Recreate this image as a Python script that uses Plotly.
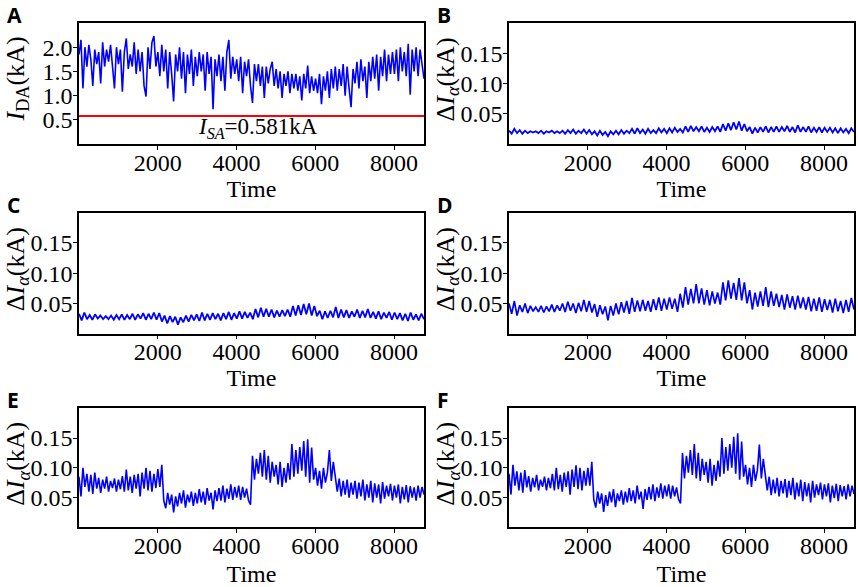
import numpy as np
import plotly.graph_objects as go

# ---------------- data ----------------
x_ticks = [2000, 4000, 6000, 8000]
t_start, t_end = 1, 8760

A_vals = [1.85, 2.15, 1.15, 2.0, 1.6, 2.05, 1.75, 1.2, 1.95, 1.65,
          1.9, 1.25, 2.1, 1.6, 1.95, 1.7, 2.05, 1.5, 1.15, 2.0,
          1.65, 1.95, 1.08, 1.9, 2.18, 1.55, 1.85, 1.6, 2.1, 1.45,
          1.95, 1.5, 1.9, 1.2, 0.98, 2.0, 1.55, 2.1, 2.23, 1.6,
          1.9, 1.4, 2.05, 1.5, 1.95, 1.15, 1.9, 1.45, 0.88, 1.85,
          1.5, 2.0, 1.35, 1.9, 1.05, 1.85, 1.45, 1.95, 1.2, 1.8,
          1.4, 1.9, 1.5, 1.85, 1.1, 1.9, 1.45, 1.8, 0.72, 1.75,
          1.4, 1.85, 1.3, 1.8, 1.1, 1.9, 2.15, 1.35, 1.8, 1.45,
          1.75, 1.3, 1.8, 1.05, 1.7, 1.4, 1.75, 1.2, 0.85, 1.65,
          1.3, 1.65, 1.2, 1.6, 0.95, 1.6, 1.25, 1.55, 1.7, 1.2,
          1.55, 1.15, 1.5, 0.95, 1.45, 1.2, 1.5, 1.05, 1.45, 1.15,
          1.45, 1.1, 1.4, 0.9, 1.45, 1.15, 1.62, 1.05, 1.4, 1.1,
          1.35, 1.05, 1.45, 0.82, 1.4, 1.1, 1.5, 0.95, 1.55, 1.15,
          1.6, 1.1, 1.55, 1.2, 1.65, 1.0, 1.6, 1.15, 0.76, 1.55,
          1.25, 1.7, 1.15, 1.75, 1.3, 1.6, 0.95, 1.7, 1.3, 1.8,
          1.35, 1.85, 1.1, 1.8, 1.4, 1.95, 1.3, 1.85, 1.45, 1.9,
          1.45, 1.95, 1.3, 2.0, 1.5, 1.9, 1.4, 2.07, 1.02, 1.95,
          1.5, 2.0, 1.4, 1.95, 1.6, 1.35]

B_vals = [0.022, 0.017, 0.025, 0.018, 0.023, 0.017, 0.022, 0.018, 0.021, 0.019,
          0.021, 0.018, 0.022, 0.017, 0.021, 0.019, 0.022, 0.018, 0.021, 0.018,
          0.022, 0.017, 0.023, 0.018, 0.024, 0.017, 0.022, 0.018, 0.024, 0.017,
          0.023, 0.016, 0.021, 0.014, 0.022, 0.015, 0.020, 0.013, 0.021, 0.016,
          0.022, 0.016, 0.023, 0.017, 0.022, 0.018, 0.025, 0.017, 0.026, 0.018,
          0.024, 0.017, 0.025, 0.018, 0.023, 0.018, 0.026, 0.019, 0.025, 0.018,
          0.026, 0.019, 0.027, 0.020, 0.025, 0.019, 0.029, 0.020, 0.030, 0.021,
          0.028, 0.021, 0.029, 0.020, 0.027, 0.020, 0.028, 0.021, 0.029, 0.020,
          0.033, 0.022, 0.034, 0.023, 0.036, 0.024, 0.037, 0.022, 0.033, 0.021,
          0.028, 0.017, 0.027, 0.019, 0.028, 0.020, 0.029, 0.019, 0.028, 0.020,
          0.029, 0.020, 0.028, 0.021, 0.030, 0.020, 0.028, 0.019, 0.031, 0.020,
          0.028, 0.020, 0.029, 0.019, 0.027, 0.020, 0.028, 0.019, 0.027, 0.020,
          0.027, 0.019, 0.026, 0.018, 0.026, 0.019, 0.025, 0.018, 0.026, 0.020]

C_vals = [0.033, 0.022, 0.035, 0.024, 0.031, 0.023, 0.032, 0.025, 0.030, 0.024,
          0.029, 0.024, 0.030, 0.023, 0.031, 0.024, 0.032, 0.023, 0.031, 0.024,
          0.033, 0.023, 0.032, 0.025, 0.034, 0.023, 0.033, 0.024, 0.035, 0.023,
          0.034, 0.020, 0.030, 0.017, 0.029, 0.019, 0.028, 0.015, 0.027, 0.019,
          0.030, 0.020, 0.031, 0.022, 0.032, 0.021, 0.035, 0.022, 0.033, 0.023,
          0.034, 0.024, 0.033, 0.022, 0.034, 0.024, 0.036, 0.023, 0.034, 0.025,
          0.037, 0.025, 0.036, 0.026, 0.035, 0.024, 0.041, 0.027, 0.043, 0.028,
          0.041, 0.028, 0.040, 0.027, 0.038, 0.028, 0.039, 0.029, 0.040, 0.028,
          0.046, 0.030, 0.047, 0.031, 0.049, 0.032, 0.050, 0.030, 0.046, 0.029,
          0.038, 0.024, 0.037, 0.026, 0.038, 0.027, 0.044, 0.026, 0.040, 0.027,
          0.039, 0.026, 0.037, 0.028, 0.040, 0.026, 0.038, 0.027, 0.041, 0.026,
          0.036, 0.025, 0.037, 0.024, 0.035, 0.026, 0.036, 0.023, 0.035, 0.024,
          0.034, 0.022, 0.033, 0.021, 0.035, 0.023, 0.032, 0.022, 0.033, 0.024]

D_vals = [0.050, 0.033, 0.054, 0.030, 0.047, 0.036, 0.050, 0.034, 0.046, 0.037,
          0.044, 0.036, 0.046, 0.035, 0.045, 0.037, 0.048, 0.036, 0.047, 0.038,
          0.050, 0.036, 0.053, 0.038, 0.050, 0.034, 0.051, 0.037, 0.056, 0.036,
          0.054, 0.035, 0.049, 0.028, 0.047, 0.032, 0.045, 0.022, 0.046, 0.030,
          0.050, 0.032, 0.052, 0.035, 0.054, 0.033, 0.059, 0.036, 0.055, 0.037,
          0.056, 0.038, 0.054, 0.036, 0.057, 0.039, 0.060, 0.038, 0.058, 0.040,
          0.060, 0.041, 0.058, 0.036, 0.066, 0.043, 0.077, 0.048, 0.074, 0.050,
          0.082, 0.050, 0.075, 0.048, 0.072, 0.047, 0.070, 0.050, 0.068, 0.048,
          0.085, 0.055, 0.088, 0.058, 0.084, 0.056, 0.092, 0.055, 0.085, 0.050,
          0.072, 0.040, 0.068, 0.045, 0.070, 0.046, 0.077, 0.044, 0.070, 0.046,
          0.066, 0.044, 0.064, 0.040, 0.065, 0.043, 0.062, 0.040, 0.063, 0.042,
          0.060, 0.040, 0.061, 0.037, 0.058, 0.038, 0.060, 0.036, 0.057, 0.039,
          0.056, 0.035, 0.058, 0.037, 0.054, 0.034, 0.056, 0.036, 0.059, 0.040]

E_vals = [0.085, 0.052, 0.100, 0.068, 0.090, 0.060, 0.088, 0.056, 0.092, 0.065,
          0.083, 0.058, 0.080, 0.065, 0.085, 0.060, 0.078, 0.066, 0.082, 0.060,
          0.080, 0.064, 0.086, 0.060, 0.097, 0.062, 0.085, 0.058, 0.088, 0.065,
          0.090, 0.052, 0.092, 0.065, 0.100, 0.062, 0.095, 0.060, 0.090, 0.066,
          0.098, 0.068, 0.105,
          0.045, 0.032, 0.058, 0.038, 0.055, 0.025, 0.052,
          0.035, 0.058, 0.040, 0.062, 0.033, 0.055, 0.042, 0.060, 0.036, 0.058,
          0.040, 0.064, 0.042, 0.060, 0.038, 0.066, 0.045, 0.058, 0.030, 0.062,
          0.044, 0.066, 0.045, 0.070, 0.042, 0.065, 0.048, 0.072, 0.046, 0.068,
          0.050, 0.070, 0.046, 0.068, 0.050, 0.065, 0.045, 0.038,
          0.120, 0.080, 0.115, 0.090, 0.125, 0.085, 0.130, 0.080, 0.120, 0.075, 0.110, 0.085,
          0.105, 0.072, 0.110, 0.068, 0.100, 0.075, 0.108, 0.080,
          0.140, 0.085, 0.130, 0.090, 0.135, 0.095, 0.145, 0.085, 0.148, 0.075, 0.134, 0.080,
          0.100, 0.070, 0.095, 0.065, 0.100, 0.075, 0.092, 0.130, 0.078, 0.110, 0.085,
          0.060, 0.082, 0.052, 0.078, 0.055, 0.080, 0.050, 0.075, 0.055,
          0.078, 0.048, 0.075, 0.052, 0.080, 0.045, 0.072, 0.050, 0.078, 0.042,
          0.074, 0.050, 0.072, 0.040, 0.076, 0.048, 0.070, 0.052, 0.073, 0.045,
          0.070, 0.050, 0.072, 0.040, 0.068, 0.047, 0.071, 0.042, 0.069, 0.050,
          0.067, 0.045, 0.070, 0.050, 0.068, 0.055]

F_vals = [0.090, 0.055, 0.105, 0.070, 0.094, 0.062, 0.092, 0.058, 0.096, 0.067,
          0.086, 0.060, 0.083, 0.067, 0.088, 0.062, 0.080, 0.068, 0.085, 0.062,
          0.083, 0.066, 0.090, 0.062, 0.100, 0.064, 0.088, 0.060, 0.092, 0.068,
          0.094, 0.055, 0.097, 0.068, 0.104, 0.064, 0.100, 0.062, 0.095, 0.070,
          0.100, 0.070, 0.110,
          0.047, 0.033, 0.060, 0.040, 0.057, 0.026, 0.054,
          0.036, 0.060, 0.042, 0.064, 0.034, 0.057, 0.044, 0.062, 0.038, 0.060,
          0.042, 0.066, 0.044, 0.062, 0.040, 0.070, 0.047, 0.060, 0.031, 0.064,
          0.046, 0.068, 0.047, 0.072, 0.044, 0.067, 0.050, 0.074, 0.048, 0.070,
          0.052, 0.072, 0.048, 0.070, 0.052, 0.067, 0.047, 0.040,
          0.125, 0.082, 0.120, 0.092, 0.130, 0.088, 0.140, 0.082, 0.125, 0.078, 0.115, 0.088,
          0.110, 0.075, 0.115, 0.070, 0.105, 0.078, 0.112, 0.085,
          0.150, 0.090, 0.135, 0.095, 0.140, 0.100, 0.152, 0.090, 0.158, 0.080, 0.144, 0.085,
          0.105, 0.072, 0.100, 0.068, 0.105, 0.078, 0.096, 0.139, 0.082, 0.115, 0.088,
          0.062, 0.085, 0.054, 0.080, 0.057, 0.083, 0.052, 0.078, 0.057,
          0.081, 0.050, 0.078, 0.054, 0.083, 0.047, 0.075, 0.052, 0.080, 0.044,
          0.076, 0.052, 0.074, 0.042, 0.078, 0.050, 0.072, 0.054, 0.075, 0.047,
          0.072, 0.052, 0.074, 0.042, 0.070, 0.049, 0.073, 0.044, 0.071, 0.052,
          0.069, 0.047, 0.072, 0.052, 0.070, 0.056]

I_SA = 0.581
panel_letters = ["A", "B", "C", "D", "E", "F"]
yticks_A = [0.5, 1.0, 1.5, 2.0]
yticks_delta = [0.05, 0.10, 0.15]

# ---------------- layout geometry ----------------
W, H = 858, 587
cols = [(79, 424), (509, 854)]
rows = [(23, 144), (212.7, 333.7), (408.3, 527.3)]
title_standoff = [4, 4, 7]


def fx(px):
    return px / W


def fy(py):
    return 1 - py / H


series = [A_vals, B_vals, C_vals, D_vals, E_vals, F_vals]
widths = [1.6, 1.8, 1.8, 1.7, 1.6, 1.6]

fig = go.Figure()
serif = "Liberation Serif, Times New Roman, serif"
annotations = []
shapes = []
layout_axes = {}

for k, vals in enumerate(series):
    r, c = divmod(k, 2)
    n = k + 1
    xa = "x" if n == 1 else f"x{n}"
    ya = "y" if n == 1 else f"y{n}"
    xs = np.linspace(t_start, t_end, len(vals))
    fig.add_trace(go.Scatter(x=xs, y=vals, mode="lines",
                             line=dict(color="#0000ff", width=widths[k]),
                             xaxis=xa, yaxis=ya, showlegend=False,
                             hoverinfo="skip"))
    x0, x1 = cols[c]
    y0, y1 = rows[r]
    common = dict(showline=True, linecolor="black", linewidth=1.5, mirror=True,
                  ticks="outside", ticklen=4, tickwidth=1.2, tickcolor="black",
                  showgrid=False, zeroline=False,
                  tickfont=dict(family=serif, size=24, color="black"))
    layout_axes["xaxis" if n == 1 else f"xaxis{n}"] = dict(
        domain=[fx(x0), fx(x1)], anchor=ya, range=[t_start, t_end],
        tickvals=x_ticks, ticktext=[str(v) for v in x_ticks],
        ticklabelstandoff=-8,
        title=dict(text="Time", font=dict(family=serif, size=24, color="black"),
                   standoff=title_standoff[r]),
        **common)
    if k == 0:
        yr, yt, fmt = [0, 2.5], yticks_A, "{:.1f}"
    else:
        yr, yt, fmt = [0, 0.2], yticks_delta, "{:.2f}"
    layout_axes["yaxis" if n == 1 else f"yaxis{n}"] = dict(
        domain=[fy(y1), fy(y0)], anchor=xa, range=yr,
        tickvals=yt, ticktext=[fmt.format(v) for v in yt],
        ticklabelstandoff=-4, **common)

    # y title as rotated annotation
    ytxt = "<i>I</i><sub>DA</sub>(kA)" if k == 0 else "Δ<i>I</i><sub><i>α</i></sub>(kA)"
    annotations.append(dict(text=ytxt, textangle=-90, xref="paper", yref="paper",
                            x=fx(x0 - 62), y=fy((y0 + y1) / 2 - 4), xanchor="center",
                            yanchor="middle", showarrow=False,
                            font=dict(family=serif, size=26, color="black")))
    # panel letter
    annotations.append(dict(text=f"<b>{panel_letters[k]}</b>", xref="paper", yref="paper",
                            x=fx(x0 - 74), y=fy(y0 - 8), xanchor="left", yanchor="middle",
                            showarrow=False,
                            font=dict(family="Open Sans, Liberation Sans, sans-serif",
                                      size=21, color="black")))

# red threshold line in panel A
shapes.append(dict(type="line", xref="x domain", yref="y", x0=0, x1=1,
                   y0=I_SA, y1=I_SA, line=dict(color="#ff0000", width=2)))
annotations.append(dict(text=f"<i>I</i><sub><i>SA</i></sub>={I_SA}kA", xref="x", yref="y",
                        x=4550, y=0.33, showarrow=False, xanchor="center", yanchor="middle",
                        font=dict(family=serif, size=23, color="black")))

fig.update_layout(width=W, height=H, margin=dict(l=0, r=0, t=0, b=0),
                  paper_bgcolor="white", plot_bgcolor="white",
                  annotations=annotations, shapes=shapes, **layout_axes)

# remove the page's default 8px body margin so the figure fills the window
fig.write_html("out.html", config={"displayModeBar": False},
               post_script="document.body.style.margin='0';document.body.style.overflow='hidden';")
